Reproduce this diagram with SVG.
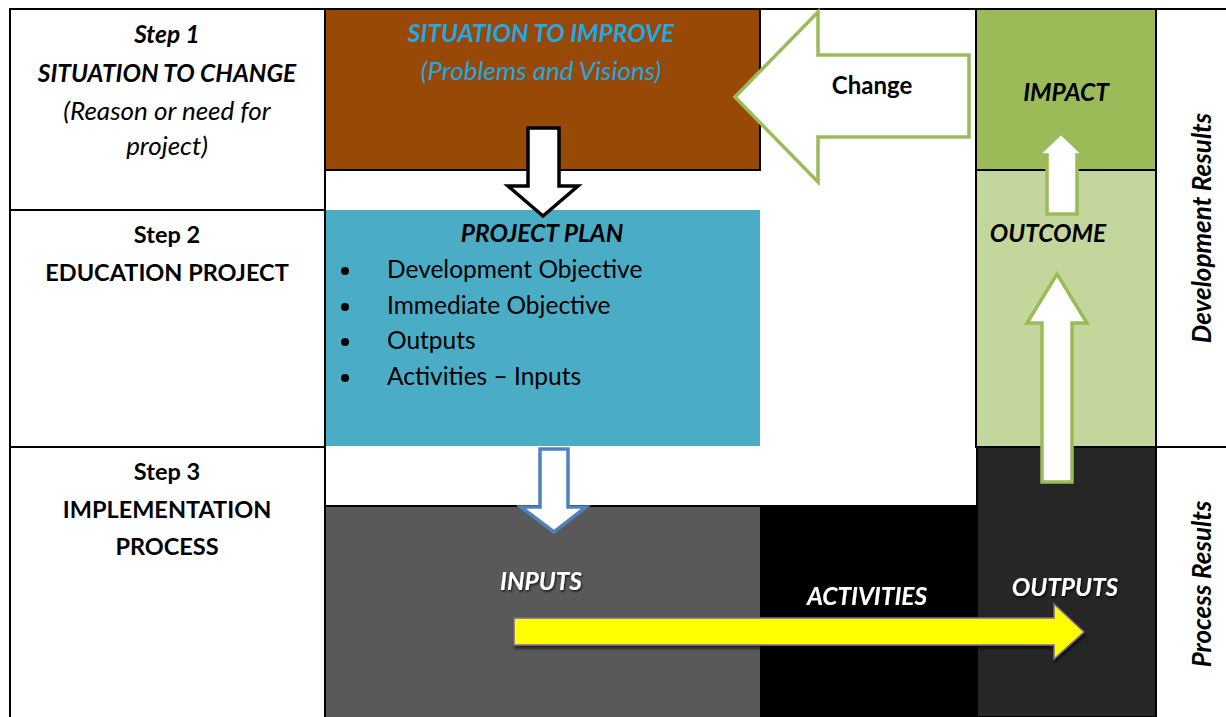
<svg xmlns="http://www.w3.org/2000/svg" width="1226" height="717" viewBox="0 0 1226 717">
  <style>
    text { font-family: Lato, "Open Sans", "Liberation Sans", sans-serif; }
    .lbl { font-size: 24px; text-anchor: middle; fill: #000; }
    .b { font-weight: bold; font-size: 23.5px; }
    .i { font-style: italic; font-size: 26px; }
    .bi { font-weight: bold; font-style: italic; font-size: 24.5px; }
    .w { fill: #fff; }
    .vert { font-size: 26px; }
    .grid { stroke: #000; stroke-width: 2; fill: none; }
    .garrow { fill: #fff; stroke: #9BBB59; stroke-width: 3.5; stroke-linejoin: miter; }
    .bullet { font-size: 24.5px; fill: #000; }
  </style>
  <defs>
    <filter id="shadow" x="-5%" y="-30%" width="110%" height="160%">
      <feDropShadow dx="1" dy="3" stdDeviation="1.5" flood-color="#000" flood-opacity="0.6"/>
    </filter>
    <filter id="tshadow" x="-10%" y="-30%" width="120%" height="160%">
      <feDropShadow dx="1" dy="1.5" stdDeviation="1" flood-color="#000" flood-opacity="0.8"/>
    </filter>
  </defs>

  <rect x="0" y="0" width="1226" height="717" fill="#fff"/>

  <!-- left column: steps -->
  <g id="step1">
    <rect x="10" y="9" width="315" height="201" fill="#fff"/>
    <text class="lbl bi" x="167" y="43">Step 1</text>
    <text class="lbl bi" x="167" y="82">SITUATION TO CHANGE</text>
    <text class="lbl i" x="167" y="120">(Reason or need for</text>
    <text class="lbl i" x="167" y="155">project)</text>
  </g>
  <g id="step2">
    <text class="lbl b" x="167" y="243">Step 2</text>
    <text class="lbl b" x="167" y="281">EDUCATION PROJECT</text>
  </g>
  <g id="step3">
    <text class="lbl b" x="167" y="480">Step 3</text>
    <text class="lbl b" x="167" y="518">IMPLEMENTATION</text>
    <text class="lbl b" x="167" y="555">PROCESS</text>
  </g>

  <!-- middle column -->
  <g id="situation">
    <rect x="325" y="9" width="435" height="161" fill="#984807" stroke="#000" stroke-width="2"/>
    <text class="lbl bi" x="541" y="42" style="fill:#22A8E2">SITUATION TO IMPROVE</text>
    <text class="lbl i" x="541" y="80" style="fill:#22A8E2">(Problems and Visions)</text>
  </g>
  <g id="project-plan">
    <rect x="325" y="210" width="435" height="236" fill="#4BACC6"/>
    <text class="lbl bi" x="542" y="242">PROJECT PLAN</text>
    <circle cx="345" cy="271" r="4" fill="#000"/>
    <circle cx="345" cy="307" r="4" fill="#000"/>
    <circle cx="345" cy="342" r="4" fill="#000"/>
    <circle cx="345" cy="378" r="4" fill="#000"/>
    <text class="bullet" x="387" y="278">Development Objective</text>
    <text class="bullet" x="387" y="314">Immediate Objective</text>
    <text class="bullet" x="387" y="349">Outputs</text>
    <text class="bullet" x="387" y="385">Activities – Inputs</text>
  </g>
  <g id="inputs">
    <rect x="325" y="506" width="435" height="211" fill="#595959"/>
    <text class="lbl bi w" x="541" y="590" filter="url(#tshadow)">INPUTS</text>
  </g>
  <g id="activities">
    <rect x="760" y="506" width="217" height="211" fill="#000"/>
    <text class="lbl bi w" x="867" y="605" filter="url(#tshadow)">ACTIVITIES</text>
  </g>

  <!-- right column: results -->
  <g id="impact">
    <rect x="976" y="9" width="180" height="161" fill="#9BBB59" stroke="#000" stroke-width="2"/>
    <text class="lbl bi" x="1066" y="101">IMPACT</text>
  </g>
  <g id="outcome">
    <rect x="976" y="170" width="180" height="277" fill="#C3D69B" stroke="#000" stroke-width="2"/>
    <text class="lbl bi" x="1048" y="242">OUTCOME</text>
  </g>
  <g id="outputs">
    <rect x="977" y="447" width="179" height="270" fill="#262626" stroke="#000" stroke-width="2"/>
    <text class="lbl bi w" x="1065" y="596" filter="url(#tshadow)">OUTPUTS</text>
  </g>
  <g id="results-labels">
    <text class="lbl bi vert" transform="translate(1211,228) rotate(-90)">Development Results</text>
    <text class="lbl bi vert" transform="translate(1211,584) rotate(-90)">Process Results</text>
  </g>

  <!-- grid lines -->
  <g id="frame">
    <line class="grid" x1="9" y1="9" x2="1226" y2="9" stroke-width="3"/>
    <line class="grid" x1="10" y1="9" x2="10" y2="717" stroke-width="3"/>
    <line class="grid" x1="325" y1="9" x2="325" y2="717"/>
    <line class="grid" x1="10" y1="210" x2="325" y2="210"/>
    <line class="grid" x1="10" y1="447" x2="325" y2="447"/>
    <line class="grid" x1="325" y1="506" x2="976" y2="506"/>
    <line class="grid" x1="1156" y1="9" x2="1156" y2="717"/>
    <line class="grid" x1="1156" y1="447" x2="1226" y2="447"/>
  </g>

  <!-- connectors -->
  <g id="connectors">
    <!-- change arrow back to the situation -->
    <polygon class="garrow" points="969,55 818,55 818,12 735,97 818,182 818,137 969,137"/>
    <text class="lbl b" x="872" y="94" style="font-size:24px">Change</text>
    <!-- situation to plan -->
    <polygon points="528,128 559,128 559,186 578,186 543,216 508,186 528,186" fill="#fff" stroke="#000" stroke-width="3.5"/>
    <!-- plan to inputs -->
    <polygon points="540,449 568,449 568,507 586,507 554,532 521,507 540,507" fill="#fff" stroke="#4F81BD" stroke-width="3.5"/>
    <!-- inputs through activities to outputs -->
    <polygon points="514,618 1054,618 1054,604 1084,632 1054,659 1054,645 514,645" fill="#FFFF00" stroke="#8064A2" stroke-width="1.5" filter="url(#shadow)"/>
    <!-- outputs to outcome -->
    <polygon class="garrow" points="1042,482 1072,482 1072,323 1087,323 1057,274 1027,323 1042,323"/>
    <!-- outcome to impact -->
    <polygon class="garrow" points="1047,214 1077,214 1077,155 1084,155 1061,133 1038,155 1047,155"/>
  </g>
</svg>
